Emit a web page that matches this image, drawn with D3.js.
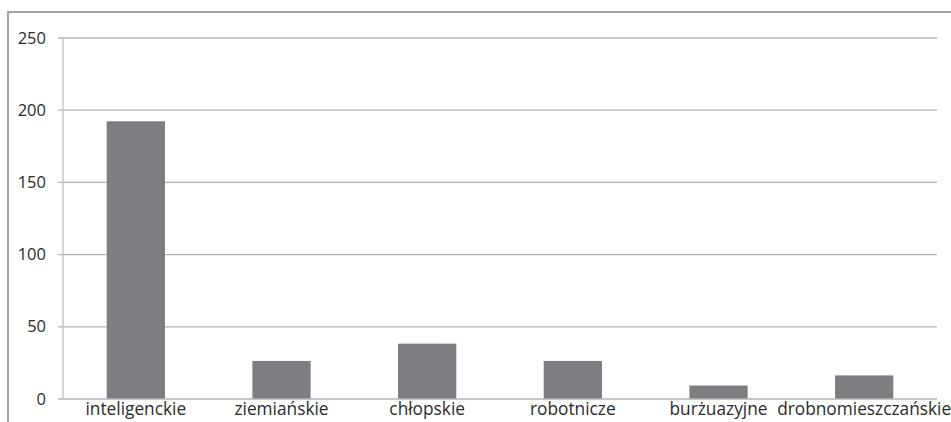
<!DOCTYPE html>
<html>
<head>
<meta charset="utf-8">
<script src="https://cdn.jsdelivr.net/npm/d3@7"></script>
<style>
  body { margin: 0; background: #fff; }
  svg { display: block; }
</style>
</head>
<body>
<svg id="chart"></svg>
<script>
// categories and values
var categories = ["inteligenckie", "ziemiańskie", "chłopskie", "robotnicze", "burżuazyjne", "drobnomieszczańskie"];
var counts = [192, 26, 38, 26, 9, 16];
var yTicks = [0, 50, 100, 150, 200, 250];

var width = 951, height = 422;

var svg = d3.select("#chart")
  .attr("width", width)
  .attr("height", height);

// outer frame (top + left visible, rest cut off)
svg.append("path")
  .attr("d", "M8,423 L8,12 L952,12")
  .attr("fill", "none")
  .attr("stroke", "#a3a3a3")
  .attr("stroke-width", 2);

var plot = {left: 63, right: 937, top: 37.5, bottom: 398.5};

var x = d3.scaleBand()
  .domain(categories)
  .range([plot.left, plot.right])
  .paddingInner(0.6)
  .paddingOuter(0.3);

var y = d3.scaleLinear()
  .domain([0, 250])
  .range([plot.bottom, plot.top]);

// gridlines + tick marks
svg.append("g")
  .attr("transform", "translate(" + plot.left + ",0)")
  .call(d3.axisLeft(y).tickValues(yTicks).tickSize(-(plot.right - plot.left)).tickFormat(""))
  .call(function(g){
    g.select(".domain").remove();
    g.selectAll("line")
      .attr("x1", -5)
      .attr("stroke", "#b4b4b4")
      .attr("stroke-width", 1.3);
  });

// y axis line
svg.append("line")
  .attr("x1", plot.left).attr("x2", plot.left)
  .attr("y1", plot.top).attr("y2", plot.bottom)
  .attr("stroke", "#c2c2c2")
  .attr("stroke-width", 1.3);

// y tick labels
svg.append("g")
  .selectAll("text")
  .data(yTicks)
  .enter()
  .append("text")
  .attr("x", 46)
  .attr("y", function(d){ return y(d) + 6; })
  .attr("text-anchor", "end")
  .attr("font-family", "Open Sans, sans-serif")
  .attr("font-size", 16.5)
  .attr("fill", "#2b2b2b")
  .text(function(d){ return d; });

// bars
svg.append("g")
  .selectAll("rect")
  .data(categories)
  .enter()
  .append("rect")
  .attr("x", function(d){ return x(d); })
  .attr("y", function(d, i){ return y(counts[i]); })
  .attr("width", x.bandwidth())
  .attr("height", function(d, i){ return plot.bottom - y(counts[i]); })
  .attr("fill", "#7d7e82");

// category labels
svg.append("g")
  .selectAll("text")
  .data(categories)
  .enter()
  .append("text")
  .attr("x", function(d){ return x(d) + x.bandwidth() / 2; })
  .attr("y", 415)
  .attr("text-anchor", "middle")
  .attr("font-family", "Open Sans, sans-serif")
  .attr("font-size", 17.3)
  .attr("fill", "#2b2b2b")
  .text(function(d){ return d; });
</script>
</body>
</html>
